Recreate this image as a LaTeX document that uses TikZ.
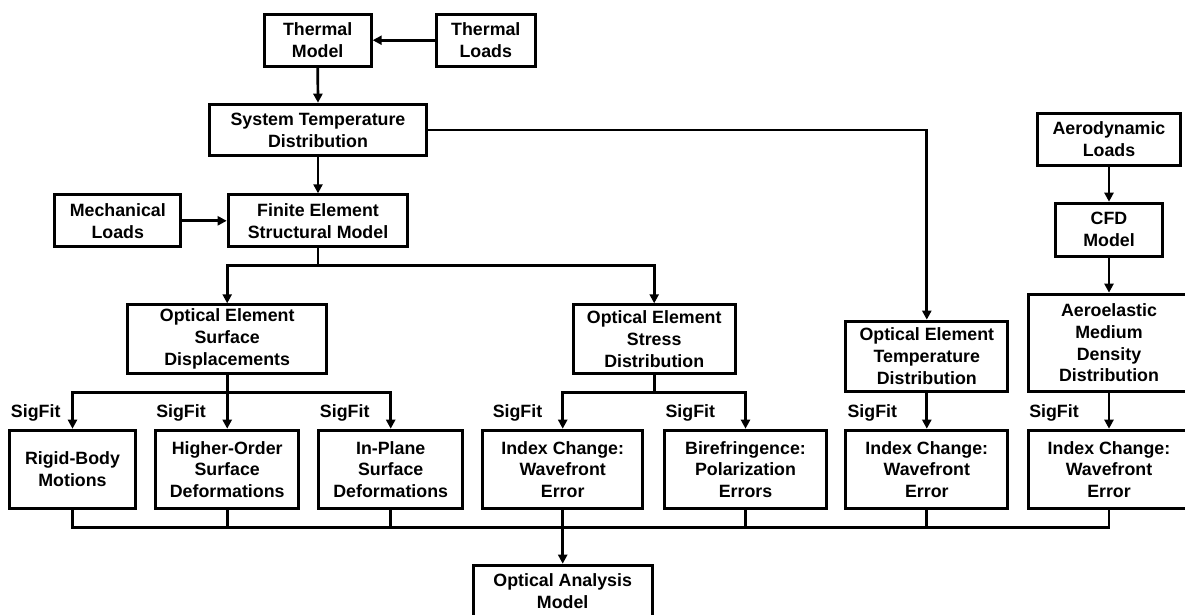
\documentclass[tikz,border=0pt]{standalone}
\usepackage{fontspec}
\setmainfont{Liberation Sans}
\usetikzlibrary{arrows.meta}
\begin{document}
\begin{tikzpicture}[x=1pt,y=-1pt,
  box/.style={draw, line width=3pt, align=center, inner sep=0pt,
    font=\fontsize{17.8}{21.8}\selectfont\bfseries},
  lbl/.style={inner sep=0pt, font=\fontsize{17.8}{21.8}\selectfont\bfseries},
  conn/.style={line width=2.7pt},
  arr/.style={conn, -{Triangle[length=9pt,width=9pt]}}]
\useasboundingbox (0,0) rectangle (1185,614);

% top
\node[box, minimum width=107pt, minimum height=52pt] (tm) at (317.7,40.2) {Thermal\\Model};
\node[box, minimum width=98.7pt, minimum height=52pt] (tl) at (485.8,40.2) {Thermal\\Loads};
\node[box, minimum width=216.4pt, minimum height=51.6pt] (std) at (318,130) {System Temperature\\Distribution};
\node[box, minimum width=179.6pt, minimum height=52pt] (fe) at (318,220.8) {Finite Element\\Structural Model};
\node[box, minimum width=126pt, minimum height=52pt] (ml) at (117.8,220.8) {Mechanical\\Loads};
\node[box, minimum width=143.6pt, minimum height=52pt] (al) at (1109,139.2) {Aerodynamic\\Loads};
\node[box, minimum width=107.7pt, minimum height=53pt] (cfd) at (1109,229.7) {CFD\\Model};

% middle
\node[box, minimum width=199.3pt, minimum height=68.4pt] (oesd) at (227.2,339) {Optical Element\\Surface\\Displacements};
\node[box, minimum width=162pt, minimum height=68.4pt] (oest) at (654.2,339) {Optical Element\\Stress\\Distribution};
\node[box, minimum width=162pt, minimum height=70.3pt] (oetd) at (926.8,356.3) {Optical Element\\Temperature\\Distribution};
\node[box, minimum width=161.6pt, minimum height=97.3pt] (ae) at (1109,342.8) {Aeroelastic\\Medium\\Density\\Distribution};

% bottom row
\node[box, minimum width=125.4pt, minimum height=78.6pt] (rb) at (72.5,469.5) {Rigid-Body\\Motions};
\node[box, minimum width=143pt, minimum height=78.6pt] (ho) at (227.2,469.5) {Higher-Order\\Surface\\Deformations};
\node[box, minimum width=143.7pt, minimum height=78.6pt] (ip) at (390.7,469.5) {In-Plane\\Surface\\Deformations};
\node[box, minimum width=160.3pt, minimum height=78.6pt] (ic1) at (562.7,469.5) {Index Change:\\Wavefront\\Error};
\node[box, minimum width=162.6pt, minimum height=78.6pt] (bi) at (745.5,469.5) {Birefringence:\\Polarization\\Errors};
\node[box, minimum width=162pt, minimum height=78.6pt] (ic3) at (926.8,469.5) {Index Change:\\Wavefront\\Error};
\node[box, minimum width=161.6pt, minimum height=78.6pt] (ic4) at (1109,469.5) {Index Change:\\Wavefront\\Error};

\node[box, minimum width=179pt, minimum height=52pt] (oam) at (562.7,591.2) {Optical Analysis\\Model};

% SigFit labels
\node[lbl] (s1) at (35.7,413) {SigFit};
\node[lbl] (s2) at (181,413) {SigFit};
\node[lbl] (s3) at (344.7,413) {SigFit};
\node[lbl] (s4) at (517.5,413) {SigFit};
\node[lbl] (s5) at (690.3,413) {SigFit};
\node[lbl] (s6) at (872.3,413) {SigFit};
\node[lbl] (s7) at (1054,413) {SigFit};

% connectors top
\draw[arr] (tl.west) -- (tm.east);
\draw[arr] (tm.south) -- (std.north);
\draw[arr] (std.south) -- (fe.north);
\draw[arr] (ml.east) -- (fe.west);
\draw[arr] (std.east) -| (oetd.north);
\draw[arr] (al.south) -- (cfd.north);
\draw[arr] (cfd.south) -- (ae.north);

\coordinate (feJ) at (318,265.7);
\draw[conn] (fe.south) -- (feJ);
\draw[arr] (feJ) -| (oesd.north);
\draw[arr] (feJ) -| (oest.north);

\coordinate (sdJ) at (227.2,392.7);
\draw[conn] (oesd.south) -- (sdJ);
\draw[arr] (sdJ) -| (rb.north);
\draw[arr] (sdJ) -- (ho.north);
\draw[arr] (sdJ) -| (ip.north);

\coordinate (stJ) at (654.2,392.7);
\draw[conn] (oest.south) -- (stJ);
\draw[arr] (stJ) -| (ic1.north);
\draw[arr] (stJ) -| (bi.north);

\draw[arr] (oetd.south) -- (ic3.north);
\draw[arr] (ae.south) -- (ic4.north);

% bottom bus
\coordinate (busL) at (72.5,527.7);
\coordinate (busR) at (1109,527.7);
\draw[conn] (rb.south) -- (busL) -- (busR) -- (ic4.south);
\draw[conn] (ho.south) -- (ho.south |- busL);
\draw[conn] (ip.south) -- (ip.south |- busL);
\draw[conn] (bi.south) -- (bi.south |- busL);
\draw[conn] (ic3.south) -- (ic3.south |- busL);
\draw[conn] (ic1.south) -- (ic1.south |- busL);
\draw[arr] (ic1.south |- busL) -- (oam.north);
\end{tikzpicture}
\end{document}
